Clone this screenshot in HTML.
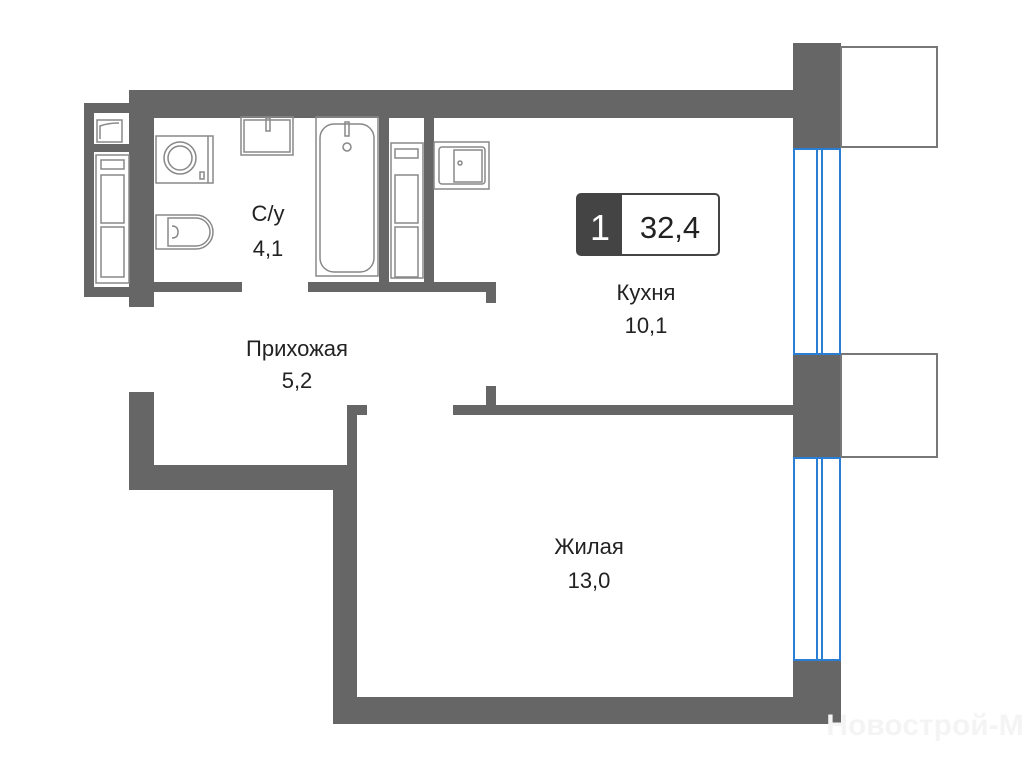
<!DOCTYPE html>
<html><head><meta charset="utf-8"><style>
html,body{margin:0;padding:0;background:#fff;width:1024px;height:768px;overflow:hidden}
svg{display:block}
text{font-family:"Liberation Sans",Arial,sans-serif;fill:#222}
</style></head><body>
<svg width="1024" height="768" viewBox="0 0 1024 768">
<g fill="#666">
<rect x="129" y="90" width="670" height="28"/>
<rect x="84" y="103" width="46" height="10"/>
<rect x="84" y="103" width="10" height="194"/>
<rect x="84" y="287" width="46" height="10"/>
<rect x="84" y="144" width="46" height="8"/>
<rect x="129" y="90" width="25" height="217"/>
<rect x="154" y="282" width="88" height="10"/>
<rect x="308" y="282" width="188" height="10"/>
<rect x="486" y="282" width="10" height="21"/>
<rect x="379" y="118" width="10" height="170"/>
<rect x="424" y="118" width="10" height="170"/>
<rect x="129" y="392" width="25" height="98"/>
<rect x="129" y="465" width="228" height="25"/>
<rect x="347" y="405" width="10" height="90"/>
<rect x="347" y="405" width="20" height="10"/>
<rect x="333" y="465" width="24" height="259"/>
<rect x="453" y="405" width="346" height="10"/>
<rect x="486" y="386" width="10" height="22"/>
<rect x="333" y="697" width="508" height="27"/>
<rect x="793" y="43" width="48" height="105"/>
<rect x="793" y="354" width="48" height="104"/>
<rect x="793" y="660" width="48" height="64"/>
</g>
<g fill="none" stroke="#777" stroke-width="2">
<rect x="841" y="47" width="96" height="100"/>
<rect x="841" y="354" width="96" height="103"/>
</g>
<g fill="none" stroke="#2a7fd4" stroke-width="2">
<rect x="794" y="149" width="46" height="205"/>
<rect x="794" y="458" width="46" height="202"/>
<line x1="817" y1="149" x2="817" y2="354"/><line x1="822" y1="149" x2="822" y2="354"/>
<line x1="817" y1="458" x2="817" y2="660"/><line x1="822" y1="458" x2="822" y2="660"/>
</g>
<g fill="none" stroke="#888" stroke-width="1.5">
<rect x="97" y="120" width="25" height="22"/>
<path d="M100 139 L100 126 Q108 123 119 123"/>
<rect x="96" y="155" width="33" height="128"/><rect x="101" y="160" width="23" height="9"/><rect x="101" y="175" width="23" height="48"/><rect x="101" y="227" width="23" height="50"/>
<rect x="156" y="136" width="57" height="47"/><circle cx="180" cy="158" r="16"/><circle cx="180" cy="158" r="12"/><line x1="208" y1="136" x2="208" y2="183"/><rect x="200" y="172" width="4" height="7"/>
<rect x="241" y="117" width="52" height="38"/><rect x="244" y="120" width="46" height="32"/><rect x="266" y="118" width="4" height="13"/>
<rect x="316" y="117" width="62" height="159"/><rect x="320" y="124" width="54" height="148" rx="14"/><rect x="345" y="122" width="4" height="14"/><circle cx="347" cy="147" r="4"/>
<rect x="391" y="143" width="32" height="135"/><rect x="395" y="149" width="23" height="9"/><rect x="395" y="175" width="23" height="48"/><rect x="395" y="227" width="23" height="50"/>
<path d="M156 215 L196 215 A17 17 0 0 1 196 249 L156 249 Z"/><path d="M168 218 L196 218 A14 14 0 0 1 196 246 L168 246 Z"/><path d="M172 226 Q178 226 178 232 Q178 238 172 238"/>
<rect x="434" y="142" width="55" height="47"/><rect x="439" y="147" width="46" height="37" rx="3"/><rect x="454" y="150" width="28" height="32"/><circle cx="460" cy="163" r="2"/>
</g>
<rect x="577" y="194" width="142" height="61" rx="4" fill="#fff" stroke="#444" stroke-width="2"/>
<path d="M581 194 H622 V255 H581 Q577 255 577 251 V198 Q577 194 581 194 Z" fill="#444"/>
<text x="600" y="240" font-size="36" text-anchor="middle" style="fill:#fff">1</text>
<text x="670" y="238" font-size="31" text-anchor="middle">32,4</text>
<g font-size="22" text-anchor="middle">
<text x="268" y="221">С/у</text><text x="268" y="256">4,1</text>
<text x="297" y="356">Прихожая</text><text x="297" y="388">5,2</text>
<text x="646" y="300">Кухня</text><text x="646" y="333">10,1</text>
<text x="589" y="554">Жилая</text><text x="589" y="588">13,0</text>
</g>
<text x="925" y="735" font-size="30" text-anchor="middle" style="fill:#f4f4f4;font-weight:bold">Новострой-М</text>
</svg>
</body></html>
